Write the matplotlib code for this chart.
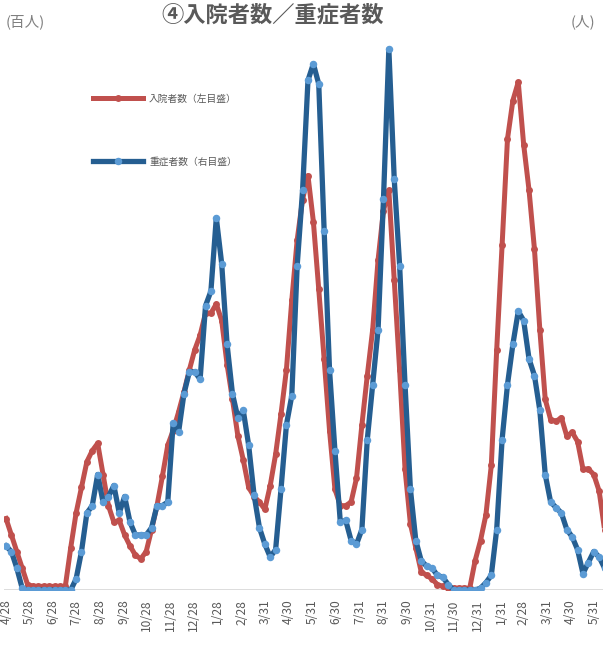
#!/usr/bin/env python3
"""Hospitalised / severe cases chart (weekly), two y-axes."""

import matplotlib

matplotlib.use("Agg")
import matplotlib.pyplot as plt
import pandas as pd

plt.rcParams["font.family"] = ["Noto Sans CJK JP", "DejaVu Sans"]

START = "2020-04-28"
N_WEEKS = 112

# 入院者数 (百人), weekly
hospitalised = [
    3.9, 3.0, 2.1, 1.2, 0.3, 0.2, 0.2, 0.2, 0.2, 0.2, 0.2, 0.2,
    2.3, 4.2, 5.6, 7.0, 7.6, 8.0, 6.3, 4.6, 3.7, 3.8, 3.0, 2.4,
    1.9, 1.7, 2.1, 3.3, 4.6, 6.2, 7.9, 8.7, 9.7, 10.8, 12.0, 13.1,
    13.9, 15.1, 15.1, 15.6, 14.7, 12.3, 10.4, 8.4, 7.1, 5.6, 5.1, 4.8,
    4.4, 5.7, 7.4, 9.6, 12.0, 15.8, 19.1, 21.3, 22.6, 20.1, 16.4, 12.6,
    8.7, 5.5, 4.6, 4.6, 4.8, 6.1, 9.0, 11.7, 14.2, 18.0, 20.7, 21.8,
    16.9, 12.0, 6.6, 3.6, 2.3, 1.0, 0.8, 0.6, 0.3, 0.2, 0.1, 0.1,
    0.1, 0.1, 0.1, 1.6, 2.7, 4.1, 6.8, 13.1, 18.8, 24.6, 26.7, 27.7,
    24.3, 21.8, 18.6, 14.2, 10.4, 9.3, 9.2, 9.4, 8.4, 8.6, 8.1, 6.6,
    6.6, 6.3, 5.4, 3.3,
]

# 重症者数 (人), weekly
severe = [
    24, 21, 12, 1, 0, 0, 0, 0, 0, 0, 0, 0,
    0, 6, 21, 42, 46, 63, 48, 51, 57, 42, 51, 37,
    30, 30, 30, 34, 46, 46, 48, 91, 86, 107, 119, 119,
    115, 155, 163, 203, 178, 134, 107, 94, 98, 79, 52, 34,
    25, 18, 22, 55, 90, 106, 177, 218, 278, 287, 276, 196,
    120, 76, 37, 38, 27, 25, 33, 82, 112, 142, 213, 295,
    224, 177, 112, 55, 27, 16, 13, 12, 8, 7, 3, 0,
    0, 0, 0, 0, 1, 4, 8, 33, 82, 112, 134, 152,
    147, 126, 117, 98, 63, 48, 45, 42, 33, 29, 22, 9,
    15, 21, 18, 12,
]

tick_dates = [
    "2020-04-28", "2020-05-28", "2020-06-28", "2020-07-28", "2020-08-28",
    "2020-09-28", "2020-10-28", "2020-11-28", "2020-12-28", "2021-01-28",
    "2021-02-28", "2021-03-31", "2021-04-30", "2021-05-31", "2021-06-30",
    "2021-07-31", "2021-08-31", "2021-09-30", "2021-10-31", "2021-11-30",
    "2021-12-31", "2022-01-31", "2022-02-28", "2022-03-31", "2022-04-30",
    "2022-05-31",
]
tick_labels = [
    "4/28", "5/28", "6/28", "7/28", "8/28", "9/28", "10/28", "11/28", "12/28",
    "1/28", "2/28", "3/31", "4/30", "5/31", "6/30", "7/31", "8/31", "9/30",
    "10/31", "11/30", "12/31", "1/31", "2/28", "3/31", "4/30", "5/31",
]

RED = "#C0504D"
BLUE = "#255E91"
BLUE_MK = "#5B9BD5"
GRAY = "#595959"

dates = pd.date_range(START, periods=N_WEEKS, freq="7D")

fig = plt.figure(figsize=(6.03, 6.5), dpi=100)
ax1 = fig.add_axes([4 / 603, 60 / 650, 599 / 603, 550 / 650])
ax2 = ax1.twinx()

ax1.plot(dates, hospitalised, color=RED, linewidth=3.6, marker="o",
         markersize=5, markerfacecolor=RED, markeredgewidth=0,
         label="入院者数（左目盛）", solid_joinstyle="round")
ax2.plot(dates, severe, color=BLUE, linewidth=3.8, marker="o",
         markersize=5.4, markerfacecolor=BLUE_MK, markeredgewidth=0,
         label="重症者数（右目盛）", solid_joinstyle="round")

ax1.axhline(0, color="#D9D9D9", linewidth=2, zorder=0)

start = pd.Timestamp(START)
ax1.set_xlim(start - pd.Timedelta(days=2.6), start + pd.Timedelta(days=775))
ax1.set_ylim(0, 30)
ax2.set_ylim(0, 300)

ax1.set_xticks([pd.Timestamp(d) for d in tick_dates])
ax1.set_xticklabels(tick_labels, rotation=90, fontsize=8.7, color=GRAY)
ax1.tick_params(axis="x", length=0, pad=7)
ax1.set_yticks([])
ax2.set_yticks([])
for ax in (ax1, ax2):
    for s in ax.spines.values():
        s.set_visible(False)

h1, l1 = ax1.get_legend_handles_labels()
h2, l2 = ax2.get_legend_handles_labels()
fig.legend(h1 + h2, l1 + l2, loc="upper left", bbox_to_anchor=(84 / 603, 1 - 85 / 650),
           frameon=False, fontsize=7, labelspacing=5.4, handlelength=5.2,
           handletextpad=0.6, labelcolor=GRAY)

fig.text(273 / 603, 1 - 15 / 650, "④入院者数／重症者数", ha="center", va="center",
         fontsize=16, color=GRAY, fontweight="bold")
fig.text(25 / 603, 1 - 22 / 650, "(百人)", ha="center", va="center", fontsize=10.5, color="#7F7F7F")
fig.text(583 / 603, 1 - 22 / 650, "(人)", ha="center", va="center", fontsize=10.5, color="#7F7F7F")

fig.savefig("out.png", dpi=100)
plt.close(fig)
